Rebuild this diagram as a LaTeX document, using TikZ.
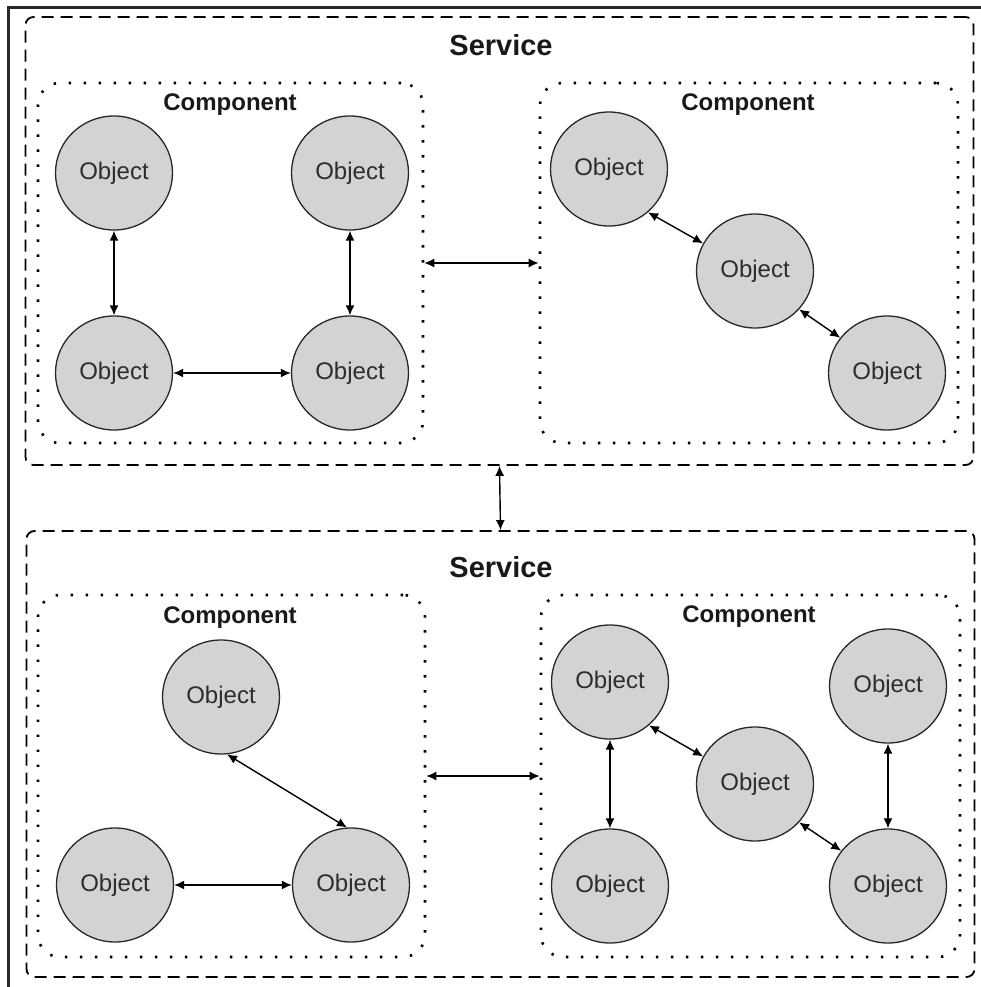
\documentclass[tikz,border=0pt]{standalone}
\usepackage{fontspec}
\setmainfont{Liberation Sans}
\usetikzlibrary{arrows.meta,shapes.geometric}
\definecolor{objfill}{RGB}{211,211,211}
\definecolor{ink}{RGB}{40,40,40}
\definecolor{txt}{RGB}{45,45,45}
\begin{document}
\begin{tikzpicture}[x=1pt,y=-1pt,
  obj/.style={ellipse, draw=ink, line width=1.3pt, fill=objfill, minimum width=117pt, minimum height=114pt, inner sep=0pt, text=txt, font=\fontsize{24}{28}\selectfont},
  comp/.style={draw=black, line width=2.6pt, dash pattern=on 2.4pt off 12.6pt, rounded corners=22pt, minimum height=360pt, inner sep=0pt},
  serv/.style={draw=black, line width=1.8pt, dash pattern=on 12pt off 7pt, rounded corners=8pt, minimum width=948pt, inner sep=0pt},
  link/.style={{Latex[length=10pt,width=9pt]}-{Latex[length=10pt,width=9pt]}, line width=1.4pt, draw=black},
  stitle/.style={font=\fontsize{29}{33}\bfseries\selectfont, text=black!90},
  ctitle/.style={font=\fontsize{24}{28}\bfseries\selectfont, text=black!90}]
\useasboundingbox (0,0) rectangle (980,987);
\fill[white] (0,0) rectangle (980,987);
% outer frame (extends beyond the visible area)
\node[draw=ink, line width=3pt, minimum width=1100pt, minimum height=1100pt, anchor=north west, inner sep=0pt] (frame) at (7,6) {};
% services
\node[serv, minimum height=448pt] (s1) at (499.5,241) {};
\node[serv, minimum height=446pt] (s2) at (500.5,754) {};
\node[stitle] (t1) at (501,45) {Service};
\node[stitle] (t2) at (501,567) {Service};
% components
\node[comp, minimum width=385pt] (k1) at (230.5,263) {};
\node[comp, minimum width=418pt] (k2) at (749,263) {};
\node[comp, minimum width=387pt, minimum height=362pt] (k3) at (231.5,776) {};
\node[comp, minimum width=419pt, minimum height=362pt] (k4) at (750.5,776) {};
\node[ctitle] (kt1) at (230,105) {Component};
\node[ctitle] (kt2) at (748,105) {Component};
\node[ctitle] (kt3) at (230,618) {Component};
\node[ctitle] (kt4) at (749,617) {Component};
% objects, top-left component
\node[obj] (a1) at (114,173) {Object};
\node[obj] (a2) at (350,173) {Object};
\node[obj] (a3) at (114,373) {Object};
\node[obj] (a4) at (350,373) {Object};
% objects, top-right component
\node[obj] (b1) at (609,169) {Object};
\node[obj] (b2) at (755,271) {Object};
\node[obj] (b3) at (887,373) {Object};
% objects, bottom-left component
\node[obj] (c1) at (221,697) {Object};
\node[obj] (c2) at (115,885) {Object};
\node[obj] (c3) at (351,885) {Object};
% objects, bottom-right component
\node[obj] (d1) at (610,682) {Object};
\node[obj] (d2) at (888,686) {Object};
\node[obj] (d3) at (755,784) {Object};
\node[obj] (d4) at (610,886) {Object};
\node[obj] (d5) at (888,886) {Object};
% connectors
\draw[link] (a1.south) -- (a3.north);
\draw[link] (a2.south) -- (a4.north);
\draw[link] (a3.east) -- (a4.west);
\draw[link] (b1.-48) -- (b2.152);
\draw[link] (b2.-41) -- (b3.143);
\draw[link] (c1.-84) -- (c3.94);
\draw[link] (c2.east) -- (c3.west);
\draw[link] (d1.south) -- (d4.north);
\draw[link] (d2.south) -- (d5.north);
\draw[link] (d1.-48) -- (d3.152);
\draw[link] (d3.-41) -- (d5.143);
\draw[link] (k1.east) -- (k2.west);
\draw[link] (k3.east) -- (k4.west);
\draw[link] (s1.south) -- (s2.north);
\end{tikzpicture}
\end{document}
